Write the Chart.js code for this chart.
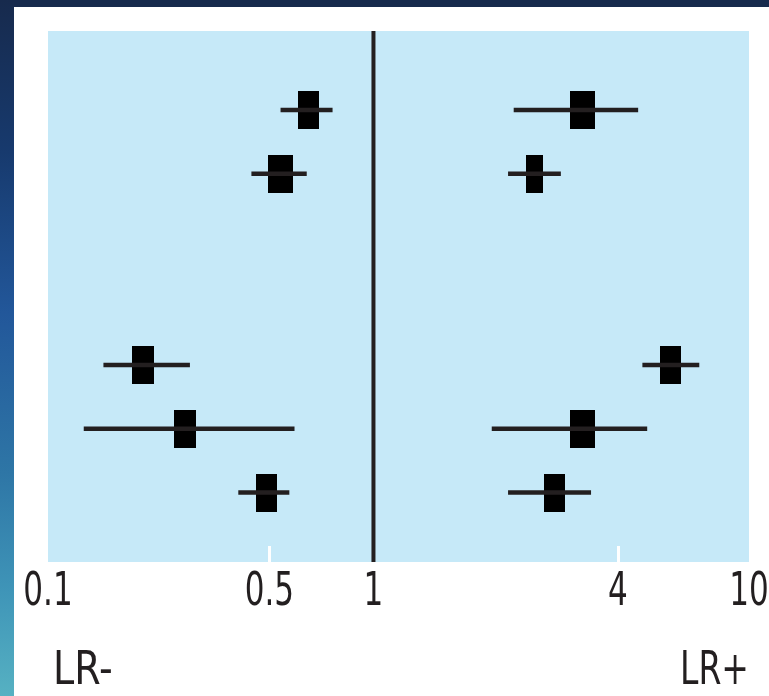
<!DOCTYPE html>
<html>
<head>
<meta charset="utf-8">
<script src="https://cdn.jsdelivr.net/npm/chart.js@4.4.1/dist/chart.umd.min.js"></script>
<style>
  html, body { margin: 0; padding: 0; background: #fff; }
  body { width: 769px; height: 696px; position: relative; overflow: hidden; }
  #topStrip { position: absolute; left: 0; top: 0; width: 769px; height: 7px; background: #172a4d; z-index: 2; }
  #leftStrip { position: absolute; left: 0; top: 0; width: 14px; height: 696px; z-index: 2;
    background: linear-gradient(to bottom, #172a4d 0%, #173a6e 22%, #22579a 45%, #2e76a6 68%, #3f95b8 85%, #56b1c2 100%); }
  #lrChart { position: absolute; left: 0; top: 0; }
</style>
</head>
<body>
<div id="topStrip"></div>
<div id="leftStrip"></div>
<canvas id="lrChart" width="820" height="696"></canvas>
<script>
// Zeilen (Studien) von oben nach unten, Luecke nach der zweiten Zeile
const rows = [0, 1, 4, 5, 6];

// LR- (links) Punktschaetzer und Konfidenzintervall
const lrNeg    = [0.65, 0.54, 0.20, 0.27, 0.49];
const lrNegLow = [0.54, 0.44, 0.15, 0.13, 0.40];
const lrNegHigh= [0.76, 0.64, 0.28, 0.59, 0.57];

// LR+ (rechts) Punktschaetzer und Konfidenzintervall
const lrPos    = [3.27, 2.50, 5.77, 3.27, 2.79];
const lrPosLow = [2.22, 2.15, 4.76, 1.96, 2.15];
const lrPosHigh= [4.60, 2.89, 7.05, 4.90, 3.43];

// Achsenbeschriftung
const tickValues = [0.1, 0.5, 1, 4, 10];
const tickLabels = ['0.1', '0.5', '1', '4', '10'];

// Lage der Ticks auf der (nicht ganz logarithmischen) Achse, 0..1
const tickPos = [0, 221 / 700, 325 / 700, 569 / 700, 1];

// Breite der Kaestchen (Gewichtung), in Pixel
const negBoxW = [21, 25, 22, 22, 21];
const posBoxW = [25, 17, 21, 25, 21];
const boxH = 38;

const fontFam = "'DejaVu Sans Condensed', 'DejaVu Sans', sans-serif";
const inkColor = '#231f20';

// LR-Wert -> Position auf der Achse (stueckweise logarithmisch zwischen den Ticks)
function toPos(v) {
    const lv = Math.log10(v);
    for (let i = 0; i < tickValues.length - 1; i++) {
        const a = Math.log10(tickValues[i]), b = Math.log10(tickValues[i + 1]);
        if (lv <= b || i === tickValues.length - 2) {
            return tickPos[i] + (lv - a) / (b - a) * (tickPos[i + 1] - tickPos[i]);
        }
    }
}

function makeBox(w) {
    const c = document.createElement('canvas');
    c.width = w;
    c.height = boxH;
    const g = c.getContext('2d');
    g.fillStyle = '#000';
    g.fillRect(0, 0, w, boxH);
    return c;
}

const whiskerData = (lo, hi) => rows.map((r, i) => ({ x: [toPos(lo[i]), toPos(hi[i])], y: r }));
const pointData = (v) => rows.map((r, i) => ({ x: toPos(v[i]), y: r }));

// schmale (gestauchte) Schrift wie im Original
function narrowText(ctx, text, x, y, align, size, squeeze) {
    ctx.save();
    ctx.font = size + 'px ' + fontFam;
    ctx.textAlign = align;
    ctx.textBaseline = 'alphabetic';
    ctx.translate(x, y);
    ctx.scale(squeeze, 1);
    ctx.fillText(text, 0, 0);
    ctx.restore();
}

// Hintergrund, Bezugslinie bei 1, weisse Ticks und Beschriftung
const forestPlugin = {
    id: 'forest',
    beforeDraw(chart) {
        const { ctx, chartArea: ca } = chart;
        ctx.save();
        ctx.fillStyle = '#c6e9f8';
        ctx.fillRect(ca.left, ca.top, ca.right - ca.left, ca.bottom - ca.top);
        ctx.restore();
    },
    beforeDatasetsDraw(chart) {
        const { ctx, chartArea: ca, scales } = chart;
        ctx.save();
        ctx.strokeStyle = '#ffffff';
        ctx.lineWidth = 3;
        for (let i = 1; i < tickPos.length - 1; i++) {
            if (tickValues[i] === 1) continue;
            const x = Math.round(scales.x.getPixelForValue(tickPos[i])) + 0.5;
            ctx.beginPath();
            ctx.moveTo(x, ca.bottom - 16);
            ctx.lineTo(x, ca.bottom);
            ctx.stroke();
        }
        const x1 = scales.x.getPixelForValue(toPos(1));
        ctx.strokeStyle = inkColor;
        ctx.lineWidth = 4;
        ctx.beginPath();
        ctx.moveTo(x1, ca.top);
        ctx.lineTo(x1, ca.bottom);
        ctx.stroke();
        ctx.restore();
    },
    afterDraw(chart) {
        const { ctx, chartArea: ca, scales } = chart;
        ctx.fillStyle = inkColor;
        // Tickbeschriftung an den Positionen der x-Achse
        scales.x.ticks.forEach((t, i) => {
            narrowText(ctx, tickLabels[i], scales.x.getPixelForValue(t.value), ca.bottom + 43, 'center', 46, 0.75);
        });
        narrowText(ctx, 'LR-', ca.left + 5, 684, 'left', 47, 0.9);
        narrowText(ctx, 'LR+', ca.right, 684, 'right', 47, 0.78);
    }
};

const ctx = document.getElementById('lrChart').getContext('2d');

new Chart(ctx, {
    type: 'scatter',
    data: {
        datasets: [
            {
                type: 'bar', indexAxis: 'y', grouped: false,
                data: whiskerData(lrNegLow, lrNegHigh),
                backgroundColor: inkColor, barThickness: 4, borderWidth: 0
            },
            {
                type: 'bar', indexAxis: 'y', grouped: false,
                data: whiskerData(lrPosLow, lrPosHigh),
                backgroundColor: inkColor, barThickness: 4, borderWidth: 0
            },
            {
                type: 'scatter',
                data: pointData(lrNeg),
                pointStyle: negBoxW.map(makeBox),
                pointRadius: 12, borderWidth: 0
            },
            {
                type: 'scatter',
                data: pointData(lrPos),
                pointStyle: posBoxW.map(makeBox),
                pointRadius: 12, borderWidth: 0
            }
        ]
    },
    options: {
        responsive: false,
        animation: false,
        layout: { padding: { left: 48, right: 71, top: 31, bottom: 0 } },
        plugins: {
            legend: { display: false },
            tooltip: { enabled: false }
        },
        scales: {
            x: {
                type: 'linear',
                min: 0,
                max: 1,
                offset: false,
                afterBuildTicks: (axis) => { axis.ticks = tickPos.map(v => ({ value: v })); },
                afterFit: (axis) => { axis.height = 134; },
                grid: { display: false, drawTicks: false },
                border: { display: false },
                ticks: { display: false, autoSkip: false }
            },
            y: {
                type: 'linear',
                display: false,
                offset: false,
                reverse: true,
                min: -1.24,
                max: 7.09
            }
        }
    },
    plugins: [forestPlugin]
});
</script>
</body>
</html>
